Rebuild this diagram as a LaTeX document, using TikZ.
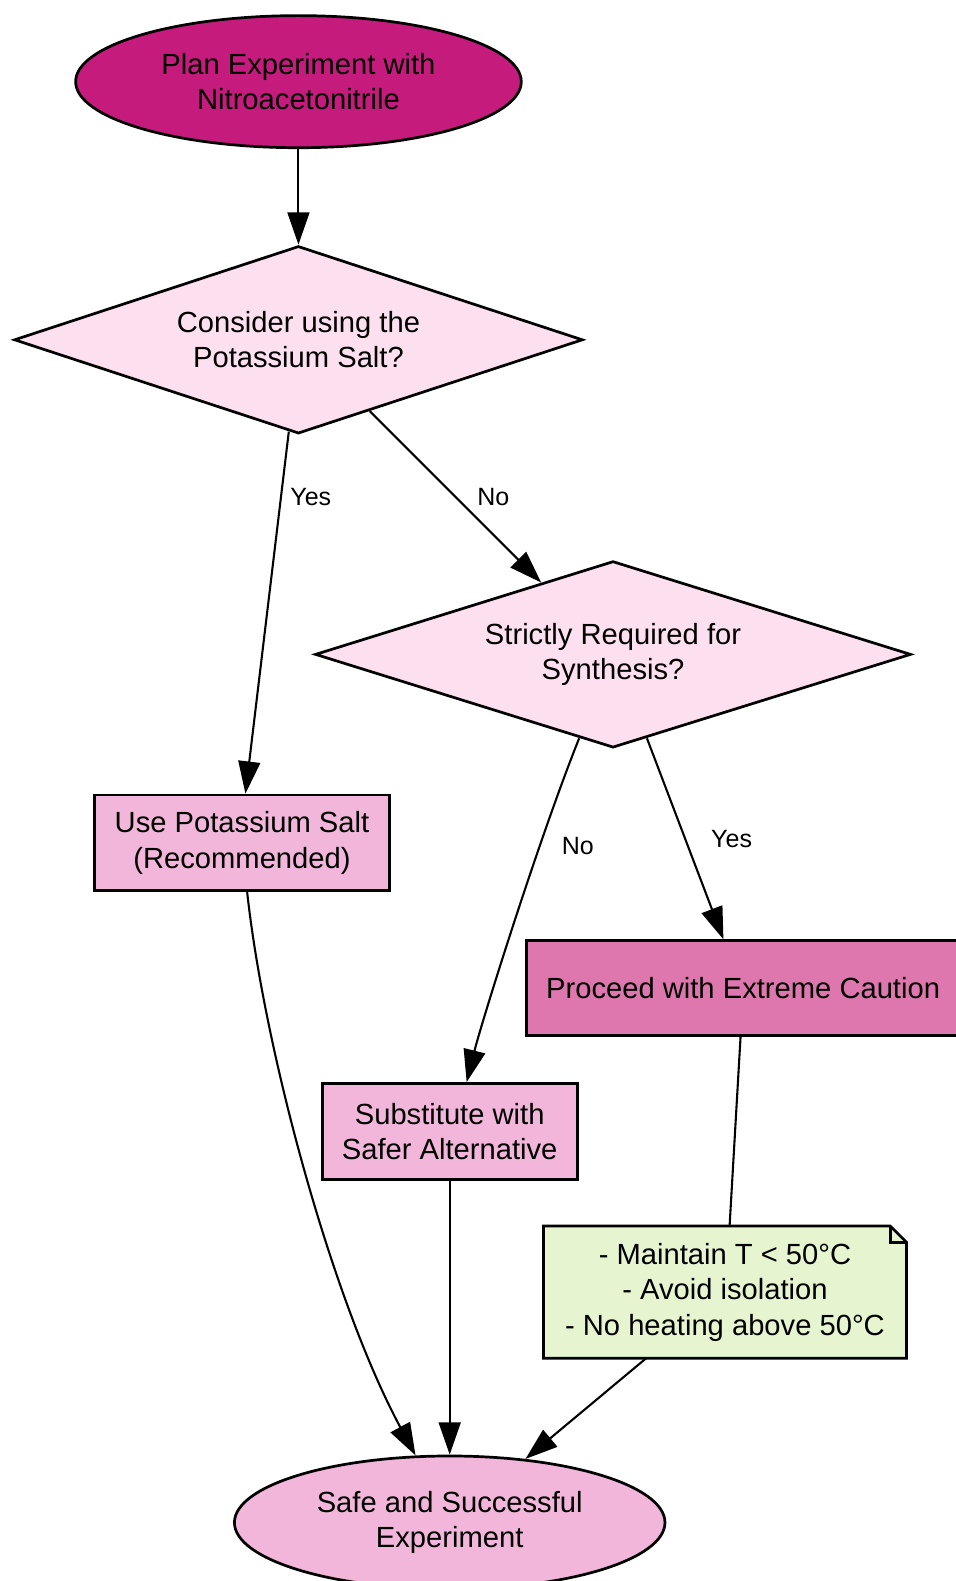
\documentclass[tikz,border=0pt]{standalone}
\usepackage{fontspec}
\setmainfont{Liberation Sans}
\usetikzlibrary{arrows.meta, shapes.geometric, backgrounds}

\newcommand{\pxl}{0.484pt}
\definecolor{piygdark}{HTML}{C51B7D}
\definecolor{piygmid}{HTML}{DE77AE}
\definecolor{piyglight}{HTML}{F1B6DA}
\definecolor{piygpale}{HTML}{FDE0EF}
\definecolor{piyggreen}{HTML}{E6F5D0}

\begin{document}
\begin{tikzpicture}[x=\pxl, y=-\pxl, line width=1pt, >={Triangle[length=15.5pt, width=10.5pt]},
    every node/.style={font=\fontsize{14}{17}\selectfont, align=center, inner sep=0pt},
    terminal/.style={ellipse, draw, line width=1.3pt},
    decision/.style={diamond, draw, fill=piygpale, line width=1.3pt, aspect=3},
    action/.style={rectangle, draw, fill=piyglight, line width=1.3pt},
    notebox/.style={rectangle, minimum width=358*\pxl, minimum height=129*\pxl},
    edgelabel/.style={font=\fontsize{12}{14}\selectfont}]

    \useasboundingbox (0,0) rectangle (948,1568);
    \clip (0,0) rectangle (948,1568);

    % Nodes
    \node (start) [terminal, fill=piygdark, minimum width=442*\pxl, minimum height=131*\pxl] at (296,81) {Plan Experiment with\\Nitroacetonitrile};
    \node (d1) [below of=start, node distance=256*\pxl, decision, minimum width=564*\pxl, minimum height=186*\pxl] {Consider using the\\Potassium Salt?};
    \node (d2) [below of=d1, node distance=312*\pxl, xshift=312*\pxl, decision, minimum width=591*\pxl, minimum height=185*\pxl] {Strictly Required for\\Synthesis?};
    \node (use) [below of=d1, node distance=499*\pxl, xshift=-56*\pxl, action, minimum width=293*\pxl, minimum height=95*\pxl] {Use Potassium Salt\\(Recommended)};
    \node (sub) [below of=d2, node distance=473*\pxl, xshift=-162*\pxl, action, minimum width=253*\pxl, minimum height=95*\pxl] {Substitute with\\Safer Alternative};
    \node (proc) [below of=d2, node distance=331*\pxl, xshift=129*\pxl, action, fill=piygmid, minimum width=430*\pxl, minimum height=94*\pxl] {Proceed with Extreme Caution};
    \node (note) [below of=proc, node distance=301.5*\pxl, xshift=-18*\pxl, notebox] {- Maintain T < 50°C\\- Avoid isolation\\- No heating above 50°C};
    \node (end) [below of=sub, node distance=388*\pxl, terminal, fill=piyglight, minimum width=427*\pxl, minimum height=132*\pxl] {Safe and Successful\\Experiment};

    % Note outline with folded corner
    \begin{scope}[on background layer]
        \filldraw[fill=piyggreen, line width=1.3pt] (note.north west) -- ([xshift=-16*\pxl]note.north east) -- ([yshift=-16*\pxl]note.north east) -- (note.south east) -- (note.south west) -- cycle;
        \draw[line width=1.3pt] ([xshift=-16*\pxl]note.north east) |- ([yshift=-16*\pxl]note.north east);
    \end{scope}

    % Edges
    \draw[->] (start) -- (d1);
    \draw[->] (d1.264) -- (use.86) node[pos=0.18, right=4pt, edgelabel] {Yes};
    \draw[->] (d1.-45) -- (d2.135) node[midway, right=10pt, edgelabel] {No};
    \draw[->] (d2.248) .. controls +(-40,100) and +(15,-60) .. (sub.71) node[pos=0.3, right=10pt, edgelabel] {No};
    \draw[->] (d2.292) -- (proc.112) node[midway, right=12pt, edgelabel] {Yes};
    \draw[->] (use.-84) .. controls +(17,156) and +(-83,-154) .. (end.117);
    \draw[->] (sub) -- (end);
    \draw (proc.267) -- (note.86);
    \draw[->] (note.220) -- (end.40);

\end{tikzpicture}
\end{document}
